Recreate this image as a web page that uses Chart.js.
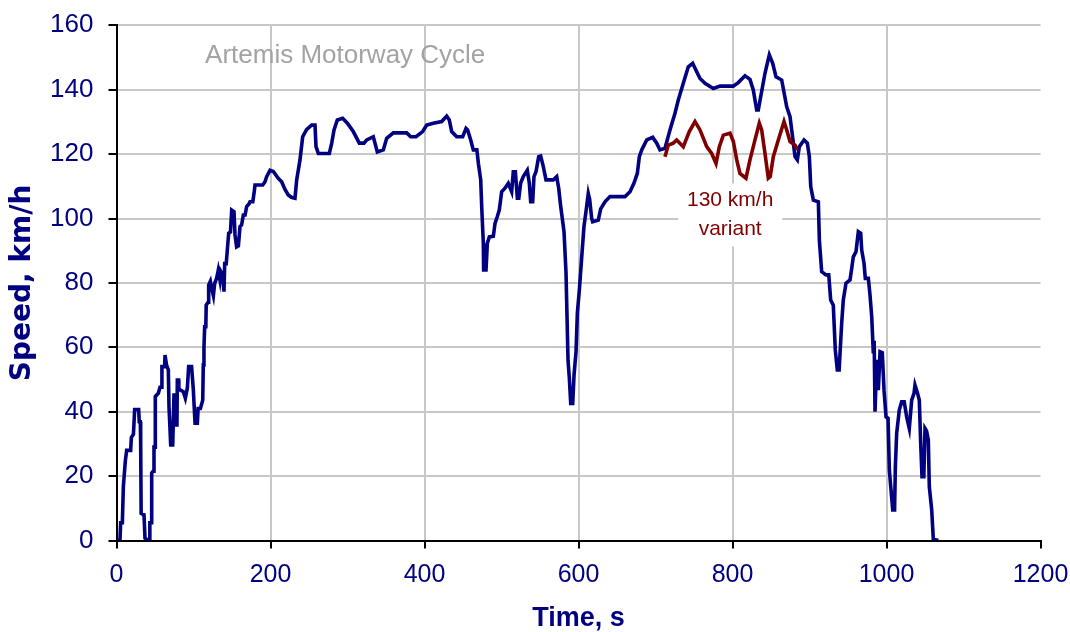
<!DOCTYPE html>
<html>
<head>
<meta charset="utf-8">
<script src="https://cdn.jsdelivr.net/npm/chart.js@4/dist/chart.umd.min.js"></script>
<style>
  html, body { margin: 0; padding: 0; background: #ffffff; }
  #wrap { width: 1070px; height: 632px; position: relative; }
</style>
</head>
<body>
<div id="wrap"><canvas id="c" width="1070" height="632"></canvas></div>
<script>
// ---- Data ----
const cycleTimes = [0,4.5,5.4,7.6,8.9,11.5,13.2,18.4,19.3,22,23.6,28.8,29.5,30.9,31.4,32,35.7,37,42.6,43.3,45,45.7,47.5,48.7,50,50.4,54.3,56.5,58,59,62.5,63,65,67.3,68.2,70.4,73,74.7,76.4,78.5,79,80.7,81,86.8,89.4,92,93.7,97.5,99.8,102,105,106,109,112,112.7,113.6,114.5,116,116.5,119,119.7,121.9,124,125.8,127.5,130,132.2,134.4,135.6,137.9,139.6,140.5,142.5,143.9,145.7,148,149.6,152.6,153.9,156,158.3,160.4,162.5,164.7,167,169,172,173.4,177,178.6,179.9,189.9,192.9,195,199.4,203.7,207,210,214.5,218.8,223.1,227,231.8,234,238.3,241.8,247,253.5,257.8,259.1,262.1,276.4,279.5,282.5,286.8,293.7,299.8,307.5,315.3,321.4,325,333.5,335.7,338.7,346.5,350.9,359.5,376.9,382.1,389,397.6,402.9,411.4,422.3,428.8,432.2,435.3,441.8,449.6,453.9,456,460,463.4,468,470,473,474.3,476.4,476.8,479.9,481.6,484.2,489.4,491.6,494.6,497.1,500.2,504.5,508.8,513.2,515.3,518,520.6,522.5,524.9,528.3,533.5,536.1,537.9,540.5,542.2,544.8,548.3,550.9,554.3,557.8,567.3,571.7,574.3,576.9,581.2,583.8,586.4,588.1,589.9,592.5,594.2,596.8,598.5,601.1,604.2,607.1,609.7,612.7,614.5,617.1,618.4,625.7,628.8,634.4,640.9,660.4,666.9,672.1,676.4,679,682.1,688.6,696.4,701.6,705.8,712.3,718.8,725.3,729.6,736.1,742.6,748.3,753.5,757.8,764.3,775.1,783.8,801,807.5,816.2,822.7,827,831.4,833.5,836.6,842.2,845.2,847.8,852.2,856.5,863.9,870.4,874.7,876.9,881.2,884.2,886.8,892.9,897.2,899.8,901.6,905,911.5,912.8,915.8,921.4,925,927.5,930.9,933.5,936.1,938.5,941.8,943.9,947.4,952.6,954.8,956.9,960.4,963.4,966.5,967.8,970.8,972.5,976.4,978.6,980.8,982.9,984,985.1,987.3,989.4,991.6,994.5,996.8,999.4,1002,1003.7,1005.5,1008.1,1010.5,1011.5,1013.2,1016.6,1019.7,1023,1026.2,1029.6,1032.7,1035.7,1037,1040,1042.6,1044.4,1046.1,1048.5,1050,1052,1054.3,1055.6,1058.7,1060.8,1067.3];
const cycleSpeeds = [0,0,5.5,5.5,16.7,24.8,28,28,32,33,40.7,40.7,36.9,36.9,30.4,8.4,8,0.7,0,5.5,5.5,20.9,21.5,29,29,44.7,45.7,47.6,47.6,54,54,57.6,54.5,53,41.5,29.7,29.7,45.7,35.9,35.9,49.8,49.8,47,46.2,44.2,47.3,54,54,46.7,36.4,36.4,41,41,43.6,54.5,60,66.4,66.4,73.1,74,79.3,80.5,77.8,76,79.9,81.4,84,80.9,83.5,82.5,77.3,86,86,90.2,95.4,95.8,102.6,102.1,94.9,91.2,91.5,97.5,98,101.1,101.1,103.7,104.5,105.2,105.2,107.8,110.4,110.4,111.4,113,115,114.6,113.5,112.5,111.4,109,107.3,106.6,106.3,112,118.2,125.4,127.7,129,129,122.3,120.2,120.2,123.4,127.5,130.6,131.1,129.6,127,123.4,123.4,124.4,125.4,123.4,120.7,121.3,124.9,126.6,126.6,125.4,125.4,127,129,129.6,130.1,131.8,130.6,127,125.4,125.4,128,127.5,124.4,121.3,121.3,117.1,112,103.7,92.3,84,84,92.3,94.3,94.5,98.5,100.6,102.6,108.3,109.4,110.9,108.3,114.5,114.5,106.3,106.3,111,113,115,111,105.2,105.2,113,114.5,119.2,119.4,116.1,112,112,113,109.4,103.7,95.9,83,56,50.4,42.6,42.6,51.4,58.6,70.6,77.8,88.1,97.5,102.1,107.8,106,100,99,99.5,103,105.2,106.8,106.8,108.3,111,114,119.2,121.3,124.4,125.2,123.4,121.3,121.8,127.5,132.7,136.8,142,147.1,148.2,145.6,143.5,142,140.4,141.1,141.1,142.2,144.3,143.2,139.9,133.7,133.7,137.8,145.1,148.2,150.8,148.2,144,143,134.7,131.6,127.5,119.2,118.2,122.3,124.4,123.4,119.2,109.9,105.7,105.2,93.3,83.5,82.5,82.5,74.7,73.1,59.2,53,53,67.5,74.7,79.9,80.9,84.5,88.1,89.7,95.9,95.4,90.2,86.1,81.4,81.4,76.2,69.5,58.1,62,40,56.1,46.7,58.6,58.3,46.7,38.4,38,21.9,16.7,9.5,9.5,22.9,33.3,40.5,43.1,43.1,38.4,34.8,43.6,45.7,48.3,46,43.6,30.2,19.8,19.8,34.8,34,31.2,16.7,9.5,0.4,0];

const variantTimes = [712.3,716.6,723.1,727.5,736.1,743.9,751.3,757.8,766.5,773,778.6,782.9,788.1,796.8,801.1,805.5,809.7,817.5,822.7,829.2,834.8,837.9,842.2,846.5,849,853,859.5,866.9,870.4,874.7,881.2,884.2];
const variantSpeeds = [119.2,122.8,123.4,124.4,122.3,127,130.1,127.5,122.3,120.2,117.1,122.3,125.9,126.5,123.9,118.2,114,112.5,118.2,124.4,129.6,127.5,120.2,112.5,113,119.2,124.4,130.1,127.5,123.9,122.8,121.3];

const xTickValues = [0, 200, 400, 600, 800, 1000, 1200];
const yTickValues = [0, 20, 40, 60, 80, 100, 120, 140, 160];

const chartTitle = "Artemis Motorway Cycle";
const variantLabel = ["130 km/h", "variant"];
const xTitle = "Time, s";
const yTitle = "Speed, km/h";

// ---- Build ----
const toPoints = (xs, ys) => xs.map((x, i) => ({ x: x, y: ys[i] }));

// use a narrow face for x tick labels if it is installed
const probe = document.createElement('canvas').getContext('2d');
function fontWidth(fam) { probe.font = '40px ' + fam; return probe.measureText('0123456789 abc').width; }
const hasNarrow = fontWidth('"Liberation Sans Narrow", monospace') !== fontWidth('monospace');
const xTickFont = hasNarrow
  ? { family: '"Liberation Sans Narrow", "Liberation Sans", sans-serif', size: 29 }
  : { family: '"Liberation Sans", Arial, sans-serif', size: 25 };

const annotations = {
  id: 'annotations',
  beforeDatasetsDraw(chart) {
    const { ctx, scales: { x, y } } = chart;
    ctx.save();
    ctx.font = '26px "Liberation Sans", Arial, sans-serif';
    ctx.fillStyle = '#a3a3a3';
    ctx.textAlign = 'center';
    ctx.textBaseline = 'middle';
    ctx.fillText(chartTitle, x.getPixelForValue(297), y.getPixelForValue(150.6));
    const cx = x.getPixelForValue(797);
    const y1 = y.getPixelForValue(105.6);
    const y2 = y.getPixelForValue(96.6);
    ctx.fillStyle = '#ffffff';
    ctx.fillRect(cx - 52, y1 - 17, 104, (y2 - y1) + 34);
    ctx.font = '21px "Liberation Sans", Arial, sans-serif';
    ctx.fillStyle = '#800000';
    ctx.fillText(variantLabel[0], cx, y1);
    ctx.fillText(variantLabel[1], cx, y2);
    ctx.restore();
  }
};

new Chart(document.getElementById('c'), {
  type: 'line',
  data: {
    datasets: [
      {
        label: 'Artemis Motorway',
        data: toPoints(cycleTimes, cycleSpeeds),
        borderColor: '#000080',
        borderWidth: 3.6,
        pointRadius: 0,
        tension: 0,
        fill: false,
        order: 2
      },
      {
        label: '130 km/h variant',
        data: toPoints(variantTimes, variantSpeeds),
        borderColor: '#800000',
        borderWidth: 3.6,
        pointRadius: 0,
        tension: 0,
        fill: false,
        order: 1
      }
    ]
  },
  options: {
    responsive: false,
    animation: false,
    events: [],
    layout: { padding: { left: 0, right: 29.5, top: 25.3, bottom: 0 } },
    plugins: { legend: { display: false }, tooltip: { enabled: false }, title: { display: false } },
    scales: {
      x: {
        type: 'linear',
        min: 0, max: 1200,
        afterBuildTicks: (s) => { s.ticks = xTickValues.map(v => ({ value: v })); },
        afterFit: (s) => { s.height = 91.5; s.paddingLeft = 0; s.paddingRight = 0; },
        ticks: {
          color: '#000080',
          font: xTickFont,
          padding: 12,
          maxRotation: 0,
          callback: (v) => String(v)
        },
        grid: {
          color: (c) => (c.tick && c.tick.value === 1200) ? 'rgba(0,0,0,0)' : '#c8c8c8',
          lineWidth: 2,
          tickColor: '#000000',
          tickLength: 8,
          tickWidth: 2
        },
        border: { color: '#000000', width: 2 },
        title: {
          display: true,
          text: xTitle,
          color: '#000080',
          font: { family: '"Liberation Sans", Arial, sans-serif', size: 27, weight: 'bold', lineHeight: 1 },
          padding: { top: 0, bottom: 0 }
        }
      },
      y: {
        type: 'linear',
        min: 0, max: 160,
        afterBuildTicks: (s) => { s.ticks = yTickValues.map(v => ({ value: v })); },
        afterFit: (s) => { s.width = 116.5; s.paddingTop = 0; s.paddingBottom = 0; },
        ticks: {
          color: '#000080',
          font: { family: '"Liberation Sans", Arial, sans-serif', size: 26 },
          padding: 15,
          callback: (v) => String(v)
        },
        grid: {
          color: '#c8c8c8',
          lineWidth: 2,
          tickColor: '#000000',
          tickLength: 8,
          tickWidth: 2
        },
        border: { color: '#000000', width: 2 },
        title: {
          display: true,
          text: yTitle,
          color: '#000080',
          font: { family: '"DejaVu Sans", Verdana, sans-serif', size: 28, weight: 'bold', lineHeight: 1 },
          padding: { top: 9, bottom: 0 }
        }
      }
    }
  },
  plugins: [annotations]
});
</script>
</body>
</html>
